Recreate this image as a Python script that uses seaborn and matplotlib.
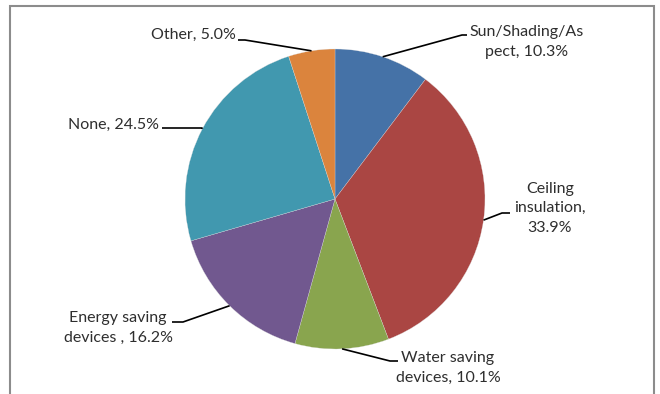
import numpy as np
import matplotlib
matplotlib.use("Agg")
import matplotlib.pyplot as plt
from matplotlib.patches import Rectangle
import seaborn as sns

# Share of households by energy-saving measure
categories = ["Sun/Shading/Aspect", "Ceiling insulation", "Water saving devices",
              "Energy saving devices", "None", "Other"]
label_names = ["Sun/Shading/As\npect", "Ceiling\ninsulation", "Water saving\ndevices",
               "Energy saving\ndevices ", "None", "Other"]
label_breaks = [" ", "\n", " ", " ", " ", " "]
shares = [10.3, 33.9, 10.1, 16.2, 24.5, 5.0]
colors = ["#4572A7", "#AA4643", "#89A54E", "#71588F", "#4198AF", "#DB843D"]

sns.set_theme(style="white")
plt.rcParams["font.family"] = ["Lato", "DejaVu Sans"]

W, H = 660, 394
fig = plt.figure(figsize=(W / 100, H / 100), dpi=100)
ax = fig.add_axes([0, 0, 1, 1])


def py(y):
    """Convert a top-down pixel row to axis y."""
    return H - y


cx, cy, r = 335, py(199), 150
wedges, _ = ax.pie(shares, colors=colors, startangle=90, counterclock=False,
                   center=(cx, cy), radius=r,
                   wedgeprops=dict(linewidth=0.2, edgecolor="#dcdcdc"))
ax.set_xlim(0, W)
ax.set_ylim(0, H)
ax.set_aspect("equal")
ax.set_axis_off()

# label centre, leader elbow and leader end (pixel rows measured from top)
label_pos = [(527, 42), (550, 208), (448, 368), (118, 328), (114, 125), (193, 35)]
elbows = [(462, 35), (502, 213), (390, 361), (183, 322), (202, 128), (245, 40)]
ends = [(467, 35), (510, 213), (398, 361), (172, 322), (162, 128), (238, 40)]

for w, name, brk, val, (tx, ty), (ex, ey), (nx, ny) in zip(
        wedges, label_names, label_breaks, shares, label_pos, elbows, ends):
    mid = np.deg2rad((w.theta1 + w.theta2) / 2)
    sx, sy = cx + r * np.cos(mid), cy + r * np.sin(mid)
    ax.plot([sx, ex, nx], [sy, py(ey), py(ny)], color="black", lw=1.2,
            solid_capstyle="butt", zorder=3)
    ax.text(tx, py(ty), f"{name},{brk}{val:.1f}%", ha="center", va="center",
            multialignment="center", fontsize=11.5, color="#2e2e2e",
            linespacing=1.5)

# chart-area border
fig.patches.append(Rectangle((10 / W, -0.05), (654 - 10) / W, (H - 6) / H + 0.05,
                             transform=fig.transFigure, fill=False,
                             edgecolor="#8c8c8c", linewidth=1.5))

fig.savefig("out.png", dpi=100)
